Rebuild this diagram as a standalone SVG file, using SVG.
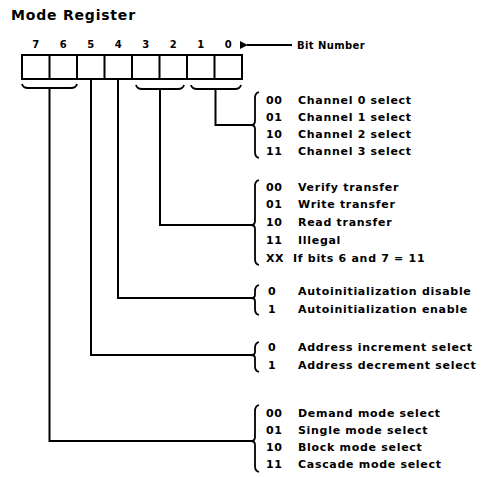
<svg xmlns="http://www.w3.org/2000/svg" width="482" height="477" viewBox="0 0 482 477">
<style>
  text { font-family: "DejaVu Sans", "Liberation Sans", sans-serif; font-weight: bold; fill: #000; }
  .title { font-size: 14px; letter-spacing: 0.8px; }
  .bit { font-size: 10px; text-anchor: middle; }
  .lbl { font-size: 10px; letter-spacing: 0.4px; }
  .code { font-size: 11px; letter-spacing: 0.6px; }
  .desc { font-size: 11px; letter-spacing: 0.7px; }
  .ln { fill: none; stroke: #000; stroke-width: 2; }
  .br { fill: none; stroke: #000; stroke-width: 1.8; }
</style>
<defs>
  <marker id="ah" viewBox="0 0 10 10" refX="1" refY="5" markerWidth="4" markerHeight="4" orient="auto-start-reverse">
    <path d="M0,5 L10,0 L10,10 Z" fill="#000"/>
  </marker>
</defs>
<rect width="482" height="477" fill="#fff"/>

<g id="title"><text class="title" x="11" y="20">Mode Register</text></g>

<g id="register">
  <text class="bit" x="35.75" y="48">7</text>
  <text class="bit" x="63.25" y="48">6</text>
  <text class="bit" x="90.75" y="48">5</text>
  <text class="bit" x="118.25" y="48">4</text>
  <text class="bit" x="145.75" y="48">3</text>
  <text class="bit" x="173.25" y="48">2</text>
  <text class="bit" x="200.75" y="48">1</text>
  <text class="bit" x="228.25" y="48">0</text>
  <rect class="ln" x="22" y="55" width="220" height="24"/>
  <path class="ln" d="M49.5,55V79 M77,55V79 M104.5,55V79 M132,55V79 M159.5,55V79 M187,55V79 M214.5,55V79"/>
</g>

<g id="bit-number">
  <path class="ln" d="M247,45 H292" marker-start="url(#ah)"/>
  <text class="lbl" x="297" y="49">Bit Number</text>
</g>

<g id="connectors">
  <path class="br" d="M22,84 Q23,88 28,88 H71 Q76,88 77,84"/>
  <path class="br" d="M136,85 Q137,89 142,89 H178 Q183,89 184,85"/>
  <path class="br" d="M191,85 Q192,89 197,89 H235 Q240,89 241,85"/>
  <path class="ln" d="M215.5,89 V125 H252"/>
  <path class="ln" d="M160,89 V225 H252"/>
  <path class="ln" d="M118,79 V298 H252"/>
  <path class="ln" d="M91,79 V355 H252"/>
  <path class="ln" d="M49.5,88 V441 H252"/>
</g>

<g id="channel-select">
  <path class="br" d="M259,92 Q255,93 255,98 V121 Q255,125 251,125 Q255,125 255,129 V152 Q255,157 259,158"/>
  <text class="code" x="266" y="104">00</text><text class="desc" x="298" y="104">Channel 0 select</text>
  <text class="code" x="266" y="121">01</text><text class="desc" x="298" y="121">Channel 1 select</text>
  <text class="code" x="266" y="138">10</text><text class="desc" x="298" y="138">Channel 2 select</text>
  <text class="code" x="266" y="155">11</text><text class="desc" x="298" y="155">Channel 3 select</text>
</g>

<g id="transfer-type">
  <path class="br" d="M259,180 Q255,181 255,186 V221 Q255,225 251,225 Q255,225 255,229 V259 Q255,264 259,265"/>
  <text class="code" x="266" y="191">00</text><text class="desc" x="298" y="191">Verify transfer</text>
  <text class="code" x="266" y="208">01</text><text class="desc" x="298" y="208">Write transfer</text>
  <text class="code" x="266" y="226">10</text><text class="desc" x="298" y="226">Read transfer</text>
  <text class="code" x="266" y="244">11</text><text class="desc" x="298" y="244">Illegal</text>
  <text class="code" x="266" y="262">XX</text><text class="desc" x="293" y="262">If bits 6 and 7 = 11</text>
</g>

<g id="autoinit">
  <path class="br" d="M259,285 Q255,286 255,291 V295 Q255,298 251,298 Q255,298 255,301 V309 Q255,314 259,315"/>
  <text class="code" x="268" y="295">0</text><text class="desc" x="298" y="295">Autoinitialization disable</text>
  <text class="code" x="268" y="313">1</text><text class="desc" x="298" y="313">Autoinitialization enable</text>
</g>

<g id="address">
  <path class="br" d="M259,342 Q255,343 255,348 V352 Q255,355 251,355 Q255,355 255,358 V366 Q255,371 259,372"/>
  <text class="code" x="268" y="351">0</text><text class="desc" x="298" y="351">Address increment select</text>
  <text class="code" x="268" y="369">1</text><text class="desc" x="298" y="369">Address decrement select</text>
</g>

<g id="mode-select">
  <path class="br" d="M259,405 Q255,406 255,411 V437 Q255,441 251,441 Q255,441 255,445 V466 Q255,471 259,472"/>
  <text class="code" x="266" y="417">00</text><text class="desc" x="298" y="417">Demand mode select</text>
  <text class="code" x="266" y="434">01</text><text class="desc" x="298" y="434">Single mode select</text>
  <text class="code" x="266" y="451">10</text><text class="desc" x="298" y="451">Block mode select</text>
  <text class="code" x="266" y="468">11</text><text class="desc" x="298" y="468">Cascade mode select</text>
</g>
</svg>
